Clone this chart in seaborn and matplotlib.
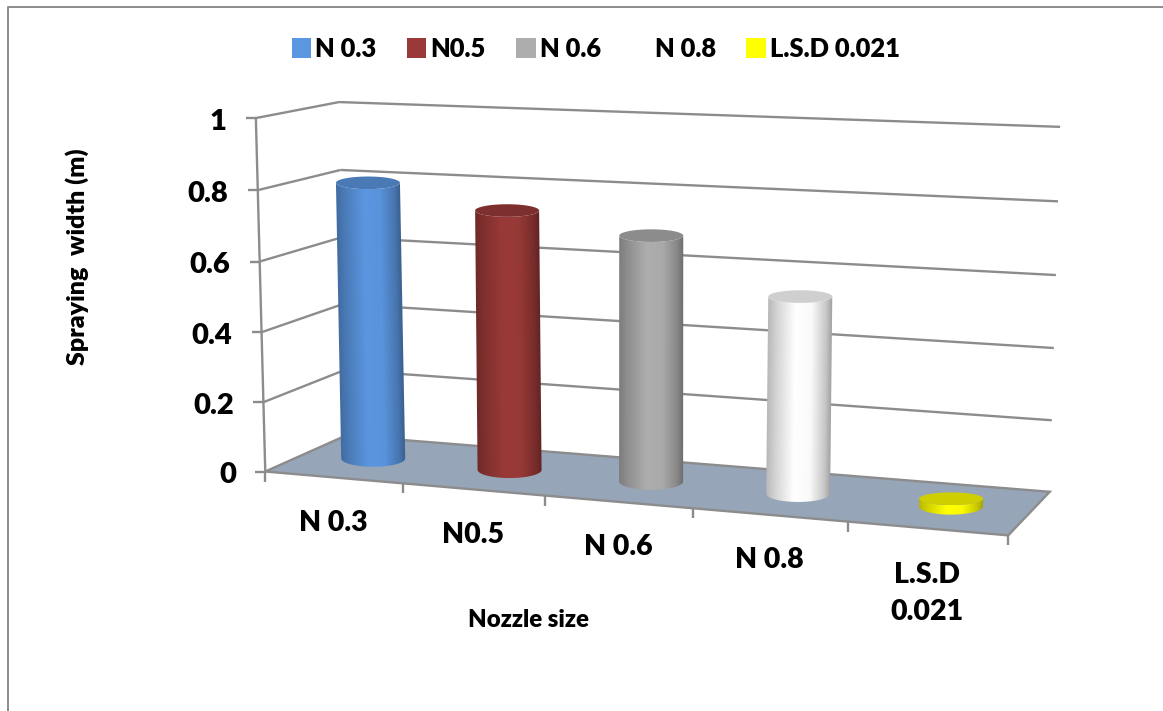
import numpy as np
import pandas as pd
import matplotlib
matplotlib.use("Agg")
import matplotlib.pyplot as plt
import matplotlib.transforms as mtransforms
from matplotlib.lines import Line2D
from matplotlib.patches import Patch, Polygon
import seaborn as sns

# Chart values
nozzles = ["N 0.3", "N0.5", "N 0.6", "N 0.8", "L.S.D 0.021"]
axis_labels = ["N 0.3", "N0.5", "N 0.6", "N 0.8", "L.S.D\n0.021"]
spraying_width = [0.80, 0.74, 0.69, 0.545, 0.021]
value_ticks = [0, 0.2, 0.4, 0.6, 0.8, 1]
value_tick_labels = ["0", "0.2", "0.4", "0.6", "0.8", "1"]
bar_colors = ["#5b96e0", "#9a3a38", "#adadad", "#ffffff", "#ffff00"]

# Camera calibration: box corners (category, depth, value) and their pixel positions
box_points = [(-0.5, 0, 0), (-0.5, 0, 1), (-0.5, 1, 0), (-0.5, 1, 1),
              (4.5, 1, 0), (4.5, 1, 1), (4.5, 0, 0), (0.5, 0, 0), (1.5, 0, 0)]
box_pixels = [(266, 470), (255, 118), (345, 437), (340, 102),
              (1050, 490), (1060, 127), (1008, 537), (403, 483), (545, 496)]

WIDTH, HEIGHT, DPI = 1163, 711, 100
GRID = "#8c8c8c"
FLOOR = "#97a5b8"
FONT = "Lato"
WEIGHT = 800


def solve_camera(world, image):
    rows = []
    for (x, y, z), (px, py) in zip(world, image):
        rows.append([x, y, z, 1, 0, 0, 0, 0, -px * x, -px * y, -px * z, -px])
        rows.append([0, 0, 0, 0, x, y, z, 1, -py * x, -py * y, -py * z, -py])
    return np.linalg.svd(np.array(rows, float))[2][-1].reshape(3, 4)


CAMERA = solve_camera(box_points, box_pixels)


def project(u, d, v):
    h = CAMERA @ np.array([u, d, v, 1.0])
    return h[:2] / h[2]


# Pixel coordinates measured from the top-left corner, y pointing down
pixel_trans = mtransforms.Affine2D().scale(1, -1).translate(0, HEIGHT)


class DepthPlane(mtransforms.Transform):
    """Maps (category, value) on a plane of constant depth to display space."""
    input_dims = output_dims = 2

    def __init__(self, plane_depth):
        super().__init__()
        self.plane_depth = plane_depth

    def transform_non_affine(self, values):
        pts = np.array([project(u, self.plane_depth, v) for u, v in np.asarray(values)])
        return pixel_trans.transform(pts)


sns.set_theme(style="white")
plt.rcParams["font.family"] = [FONT, "DejaVu Sans"]

frame = pd.DataFrame({"nozzle": nozzles, "width": spraying_width})
fig = plt.figure(figsize=(WIDTH / DPI, HEIGHT / DPI), dpi=DPI, facecolor="white")
ax = fig.add_axes([0, 0, 1, 1])
sns.barplot(data=frame, x="nozzle", y="width", hue="nozzle", palette=bar_colors,
            saturation=1, legend=False, ax=ax)
ax.set_xlim(-0.5, 4.5)
ax.set_ylim(0, 1)
ax.axis("off")

bars = [b for c in ax.containers for b in c]
front, back = DepthPlane(0), DepthPlane(1)


def add_line(xs, ys, trans, color=GRID, lw=1.7, z=1):
    ax.add_line(Line2D(xs, ys, transform=trans, color=color, lw=lw, zorder=z,
                       clip_on=False, solid_capstyle="butt"))


# Chart-area border
add_line([WIDTH, 8, 8], [7, 7, HEIGHT], pixel_trans, lw=1.4)

# Floor
floor_px = [project(-0.5, 0, 0), project(4.5, 0, 0), project(4.5, 1, 0), project(-0.5, 1, 0)]
ax.add_patch(Polygon(floor_px, closed=True, transform=pixel_trans, facecolor=FLOOR,
                     edgecolor=GRID, lw=1.7, zorder=2, clip_on=False))

# Walls: one line per value on the back wall, plus its run along the left wall
for v in value_ticks[1:]:
    add_line([-0.5, 4.5], [v, v], back)
    a, b = project(-0.5, 0, v), project(-0.5, 1, v)
    add_line([a[0], b[0]], [a[1], b[1]], pixel_trans)
a, b = project(-0.5, 0, 0), project(-0.5, 0, 1)
add_line([a[0], b[0]], [a[1], b[1]], pixel_trans, z=3)

# Value axis ticks and labels
for v, label in zip(value_ticks, value_tick_labels):
    p = project(-0.5, 0, v)
    add_line([p[0] - 10, p[0]], [p[1], p[1]], pixel_trans, z=3)
    ax.annotate(label, xy=(-0.5, v), xycoords=front, xytext=(-21, -2.8), textcoords="offset points",
                ha="right", va="center", fontsize=21, fontweight=WEIGHT, color="black")

# Category axis ticks and labels
for u in np.arange(-0.5, 5):
    p = project(u, 0, 0)
    add_line([p[0], p[0]], [p[1], p[1] + 10], pixel_trans, z=3)
for i, label in enumerate(axis_labels):
    drop = -47 if "\n" in label else -32.5
    ax.annotate(label, xy=(i, 0), xycoords=front, xytext=(0, drop), textcoords="offset points",
                ha="center", va="center", fontsize=20.5, fontweight=WEIGHT, color="black",
                linespacing=1.5)


def cylinder_shade(offset):
    return np.interp(offset, [-1, -0.75, -0.15, 0.35, 0.8, 1], [0.72, 0.82, 1.0, 0.98, 0.78, 0.62])


# Cylinders, built from the seaborn bars' positions and heights
RADIUS = 32
TOP_SEMI, BASE_SEMI = 6.3, 8.3
for k, bar in enumerate(bars):
    u = bar.get_x() + bar.get_width() / 2
    base = project(u, 0.5, 0)
    top = project(u, 0.5, bar.get_height())
    color = np.array(bar.get_facecolor()[:3])

    # Side surface: a horizontal gradient that follows the slanted centre line, clipped to the outline
    x0, x1 = min(base[0], top[0]) - RADIUS - 1, max(base[0], top[0]) + RADIUS + 1
    y0, y1 = top[1] - TOP_SEMI - 1, base[1] + BASE_SEMI + 1
    xs, ys = np.meshgrid(np.linspace(x0, x1, 260), np.linspace(y0, y1, 260))
    centre = top[0] + (ys - top[1]) / (base[1] - top[1]) * (base[0] - top[0])
    shade = cylinder_shade((xs - centre) / RADIUS)
    side = np.clip(color[None, None, :] * shade[:, :, None], 0, 1)
    image = ax.imshow(side, extent=(x0, x1, y1, y0), origin="upper", transform=pixel_trans,
                      aspect="auto", interpolation="bilinear", zorder=4 + k)
    sweep = np.linspace(np.pi, 0, 80)
    outline = np.vstack([
        np.column_stack([top[0] + RADIUS * np.cos(sweep), top[1] + TOP_SEMI * np.sin(sweep)]),
        np.column_stack([base[0] + RADIUS * np.cos(sweep[::-1]), base[1] + BASE_SEMI * np.sin(sweep[::-1])]),
    ])
    image.set_clip_path(Polygon(outline, closed=True, transform=pixel_trans))

    theta = np.linspace(0, 2 * np.pi, 120)
    lid = np.column_stack([top[0] + RADIUS * np.cos(theta), top[1] + TOP_SEMI * np.sin(theta)])
    ax.add_patch(Polygon(lid, closed=True, transform=pixel_trans, facecolor=color * 0.81,
                         edgecolor="none", zorder=4.5 + k, clip_on=False))
    bar.set_visible(False)

ax.set_xlim(-0.5, 4.5)
ax.set_ylim(0, 1)

# Axis titles
fig.text(77 / WIDTH, 1 - 257 / HEIGHT, "Spraying  width (m)", rotation=90, ha="center", va="center",
         fontsize=18, fontweight=WEIGHT, color="black")
fig.text(529 / WIDTH, 1 - 620 / HEIGHT, "Nozzle size", ha="center", va="center",
         fontsize=17.3, fontweight=WEIGHT, color="black")

# Legend along the top of the chart
handles = [Patch(facecolor=c, edgecolor="none", label=n) for c, n in zip(bar_colors, nozzles)]
fig.legend(handles=handles, ncol=5, frameon=False, loc="center left",
           bbox_to_anchor=(292 / WIDTH, 1 - 49 / HEIGHT),
           handlelength=0.75, handleheight=0.8, handletextpad=0.16, columnspacing=1.2,
           borderpad=0, borderaxespad=0, labelcolor="black",
           prop={"family": FONT, "weight": WEIGHT, "size": 18.4})

fig.savefig("out.png", dpi=DPI, facecolor="white")
